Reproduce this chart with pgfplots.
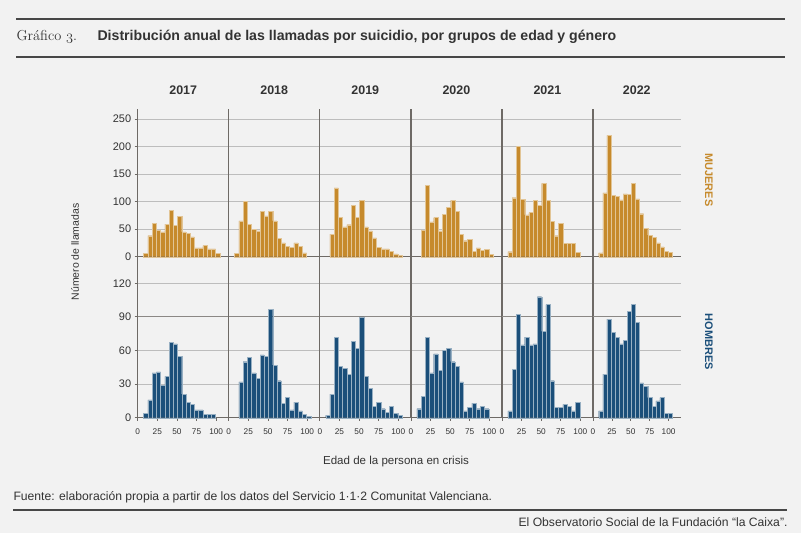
\documentclass[border=0pt]{standalone}
\usepackage{pgfplots}
\usepackage{pgfplotstable}
\pgfplotsset{compat=1.18}
\usepackage{fontspec}
\newfontfamily\sans{Liberation Sans}
\definecolor{bgc}{HTML}{F2F2F2}
\definecolor{morange}{HTML}{C68A2C}
\definecolor{hblue}{HTML}{1B4F7A}
\definecolor{gridc}{HTML}{BDBDBD}
\definecolor{axisc}{HTML}{6E6A66}
\definecolor{textc}{HTML}{333333}

\pgfplotstableread{
x     y2017 y2018 y2019 y2020 y2021 y2022
10.2  6     6     nan   nan   9     7
15.6  38    65    41    48    107   116
21.0  60    101   125   129   200   220
26.4  48    59    71    63    104   111
31.8  45    50    54    71    76    109
37.2  59    47    58    47    80    103
42.6  84    82    93    77    102   114
48.0  57    74    71    90    93    113
53.4  73    82    102   102   133   133
58.8  45    65    54    82    102   105
64.2  42    33    47    40    64    78
69.6  36    25    34    29    38    52
75.0  16    19    17    32    60    39
80.4  16    17    14    10    24    35
85.8  20    25    14    16    24    25
91.2  14    19    10    12    24    18
96.6  14    7     5     13    8     10
102.0 6     nan   3     4     nan   8
}\tabM

\pgfplotstableread{
x     y2017 y2018 y2019 y2020 y2021 y2022
10.2  4     nan   2     8     6     6
15.6  16    32    21    19    43    39
21.0  40    50    72    72    92    88
26.4  41    54    46    40    65    76
31.8  29    40    44    57    72    72
37.2  37    35    39    42    65    66
42.6  67    56    68    60    66    69
48.0  66    55    62    62    108   95
53.4  55    97    90    50    77    101
58.8  21    47    37    46    101   85
64.2  14    33    26    32    33    31
69.6  12    13    10    6     9     28
75.0  7     18    14    9     9     18
80.4  7     7     8     13    12    10
85.8  3     14    5     8     10    15
91.2  3     6     10    10    6     18
96.6  3     3     4     8     14    4
102.0 nan   1     2     nan   nan   4
}\tabH

\pgfplotsset{
  panel/.style={
    scale only axis, anchor=south west,
    xmin=0, xmax=116, ymin=0,
    axis x line*=bottom, axis y line*=left,
    axis line style={draw=axisc, line width=1.2bp},
    ymajorgrids, grid style={draw=gridc, line width=0.8bp},
    tick align=outside, major tick length=3bp,
    tick style={draw=axisc, line width=0.8bp},
    /pgf/number format/assume math mode=true,
    yticklabel style={font=\sans\fontsize{11}{12}\selectfont, text=textc},
    xticklabel style={font=\sans\fontsize{8.3}{9}\selectfont, text=textc, yshift=-5bp},
    clip=false,
  },
  toprow/.style={panel, height=147.7bp, ymax=268, ytick={0,50,100,150,200,250}, xtick=\empty},
  botrow/.style={panel, height=161bp, ymax=143.75, ytick={0,30,60,90,120}, xtick={0,25,50,75,100},
    extra y ticks={90}, extra y tick labels={}, extra y tick style={grid style={draw=axisc!80, line width=0.8bp}, major tick length=0pt}},
  notfirst/.style={yticklabels={}, ytick style={draw=none}},
  mbar/.style={ybar, bar width=5.4, fill=morange, draw=morange!50!white, line width=0.35bp},
  hbar/.style={ybar, bar width=5.4, fill=hblue, draw=hblue!45!white, line width=0.35bp},
}

\begin{document}
\begin{tikzpicture}[x=1bp,y=1bp]
\fill[bgc] (0,0) rectangle (801,533);

% header
\draw[textc!90, line width=1.5bp] (16,514) -- (785,514);
\draw[textc!90, line width=1.5bp] (16,476) -- (785,476);
\node[anchor=west, text=textc, font=\fontsize{14.5}{16}\selectfont] at (13,496.5) {Gráfico $\mathnormal{3}$.};
\node[anchor=west, text=textc, font=\sans\bfseries\fontsize{14.2}{16}\selectfont] at (94,496.5) {Distribución anual de las llamadas por suicidio, por grupos de edad y género};

\begin{axis}[toprow, at={(137.7bp,276.3bp)}, width=91bp]
\addplot[mbar] table[x=x,y=y2017]{\tabM};
\end{axis}
\begin{axis}[botrow, at={(137.7bp,115.3bp)}, width=91bp]
\addplot[hbar] table[x=x,y=y2017]{\tabH};
\end{axis}

\begin{axis}[toprow, notfirst, at={(228.7bp,276.3bp)}, width=91bp]
\addplot[mbar] table[x=x,y=y2018]{\tabM};
\end{axis}
\begin{axis}[botrow, notfirst, at={(228.7bp,115.3bp)}, width=91bp]
\addplot[hbar] table[x=x,y=y2018]{\tabH};
\end{axis}

\begin{axis}[toprow, notfirst, at={(319.8bp,276.3bp)}, width=91bp]
\addplot[mbar] table[x=x,y=y2019]{\tabM};
\end{axis}
\begin{axis}[botrow, notfirst, at={(319.8bp,115.3bp)}, width=91bp]
\addplot[hbar] table[x=x,y=y2019]{\tabH};
\end{axis}

\begin{axis}[toprow, notfirst, at={(410.9bp,276.3bp)}, width=91bp]
\addplot[mbar] table[x=x,y=y2020]{\tabM};
\end{axis}
\begin{axis}[botrow, notfirst, at={(410.9bp,115.3bp)}, width=91bp]
\addplot[hbar] table[x=x,y=y2020]{\tabH};
\end{axis}

\begin{axis}[toprow, notfirst, at={(501.9bp,276.3bp)}, width=91bp]
\addplot[mbar] table[x=x,y=y2021]{\tabM};
\end{axis}
\begin{axis}[botrow, notfirst, at={(501.9bp,115.3bp)}, width=91bp]
\addplot[hbar] table[x=x,y=y2021]{\tabH};
\end{axis}

\begin{axis}[toprow, notfirst, at={(593bp,276.3bp)}, width=87.7bp]
\addplot[mbar] table[x=x,y=y2022]{\tabM};
\end{axis}
\begin{axis}[botrow, notfirst, at={(593bp,115.3bp)}, width=87.7bp]
\addplot[hbar] table[x=x,y=y2022]{\tabH};
\end{axis}

% year labels
\foreach \xx/\yy in {183.2/2017, 274.2/2018, 365.3/2019, 456.4/2020, 547.4/2021, 636.8/2022}
  \node[font=\sans\bfseries\fontsize{12.5}{14}\selectfont, text=textc] at (\xx,443) {\yy};

% side labels
\node[rotate=-90, font=\sans\bfseries\fontsize{11}{13}\selectfont, text=morange] at (709,353) {MUJERES};
\node[rotate=-90, font=\sans\bfseries\fontsize{11}{13}\selectfont, text=hblue] at (709,191) {HOMBRES};
\node[rotate=90, font=\sans\fontsize{10.5}{12}\selectfont, text=textc] at (75,281) {Número de llamadas};
\node[font=\sans\fontsize{11.6}{13}\selectfont, text=textc] at (396,71) {Edad de la persona en crisis};

% footer
\node[anchor=west, font=\sans\fontsize{12.2}{13}\selectfont, text=textc] at (10,36) {Fuente: elaboración propia a partir de los datos del Servicio 1·1·2 Comunitat Valenciana.};
\draw[textc!90, line width=2bp] (13,23) -- (787,23);
\node[anchor=east, font=\sans\fontsize{12.2}{13}\selectfont, text=textc] at (791,11) {El Observatorio Social de la Fundación “la Caixa”.};
\end{tikzpicture}
\end{document}
